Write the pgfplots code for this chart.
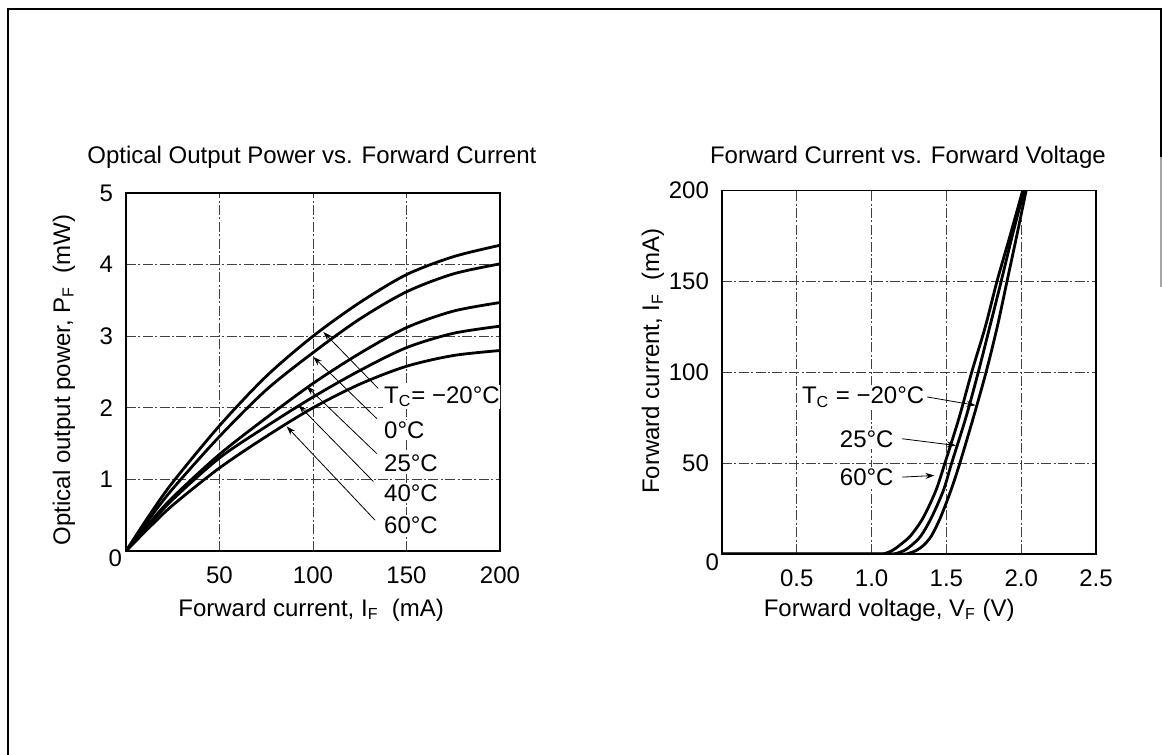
\documentclass[border=0pt]{standalone}
\usepackage{fontspec}
\setmainfont{Liberation Sans}
\usepackage{pgfplots}
\pgfplotsset{compat=1.18}
\usetikzlibrary{arrows.meta}

\pgfplotstableread{
x m20 z25 t25 f40 s60
0    0    0    0    0    0
12.5 0.50 0.45 0.39 0.37 0.33
25   0.96 0.87 0.75 0.72 0.64
50   1.75 1.60 1.35 1.30 1.16
75   2.44 2.25 1.86 1.74 1.60
100  3.00 2.77 2.34 2.15 2.00
125  3.47 3.24 2.76 2.52 2.33
150  3.86 3.62 3.12 2.84 2.58
175  4.11 3.87 3.35 3.04 2.73
200  4.27 4.01 3.47 3.14 2.80
}\powertable

\pgfplotstableread{
v i
0     0
1.15  0
1.23  0
1.30  2
1.35  5
1.40  10
1.46  20
1.53  35
1.59  50
1.68  75
1.765 100
1.84  125
1.905 150
1.97  175
2.033 200
}\ivmtwenty

\pgfplotstableread{
v i
0     0
1.08  0
1.15  0
1.22  2
1.27  5
1.33  10
1.40  20
1.48  35
1.535 50
1.63  75
1.713 100
1.79  125
1.866 150
1.94  175
2.019 200
}\ivtwentyfive

\pgfplotstableread{
v i
0     0
1.00  0
1.075 0
1.14  2
1.19  5
1.26  10
1.345 20
1.43  35
1.49  50
1.585 75
1.669 100
1.76  125
1.838 150
1.925 175
2.01  200
}\ivsixty

\tikzset{
  ann/.style={-{Stealth[length=4.5pt,width=3pt]}, line width=0.4pt},
  lab/.style={fill=white, inner sep=0.8pt, font=\fontsize{12}{14}\selectfont},
}

\begin{document}
\begin{tikzpicture}[font=\fontsize{12}{14}\selectfont]
\useasboundingbox (0,0) rectangle (581pt,377.5pt);
\draw[line width=1pt] (4pt,0) -- (4pt,373pt) -- (580.5pt,373pt) -- (580.5pt,299pt);
\draw[line width=0.6pt, black!35] (580.5pt,299pt) -- (580.5pt,234pt);

\pgfplotsset{
  every axis/.append style={
    scale only axis,
    axis line style={line width=0.9pt},
    grid=major,
    major grid style={line width=0.45pt, black!75, dash pattern=on 5pt off 1.2pt on 1pt off 1.2pt},
    major tick length=0pt,
    tick label style={font=\fontsize{12}{14}\selectfont},
    xticklabel style={yshift=-4.5pt},
    yticklabel style={xshift=-3pt},
    label style={font=\fontsize{12}{14}\selectfont},
    title style={font=\fontsize{12}{14}\selectfont, anchor=center},
    /pgf/number format/assume math mode=true,
  },
  curve/.style={line width=1.4pt, black, smooth, tension=0.5, no markers},
}

% Left chart
\begin{axis}[at={(63pt,102pt)}, anchor=south west, width=187pt, height=179pt,
  xmin=0, xmax=200, ymin=0, ymax=5,
  xtick={50,100,150,200}, xticklabels={50,100,150,200},
  ytick={0,1,2,3,4,5}, yticklabels={\raisebox{-3.5pt}[\height][\depth]{0\kern-4.5pt},1,2,3,4,5},
  title={Optical Output Power vs. Forward Current},
  title style={at={(axis description cs:0.497,1.067)}},
  xlabel={Forward current, I\textsubscript{F}\ \ (mA)},
  xlabel style={at={(axis description cs:0.495,-0.165)}, anchor=center},
  ylabel={Optical output power, P\textsubscript{F}\ \ (mW)},
  ylabel style={at={(axis description cs:-0.166,0.478)}, anchor=center},
]
\addplot[curve] table[x=x, y=m20] {\powertable};
\addplot[curve] table[x=x, y=z25] {\powertable};
\addplot[curve] table[x=x, y=t25] {\powertable};
\addplot[curve] table[x=x, y=f40] {\powertable};
\addplot[curve] table[x=x, y=s60] {\powertable};
\draw[ann] (axis cs:134.9,2.27) -- (axis cs:105.5,3.06);
\draw[ann] (axis cs:134.1,1.85) -- (axis cs:100.2,2.71);
\draw[ann] (axis cs:134.1,1.36) -- (axis cs:96.6,2.30);
\draw[ann] (axis cs:132.3,0.97) -- (axis cs:92.2,2.04);
\draw[ann] (axis cs:133.2,0.43) -- (axis cs:85.9,1.74);
\node[lab, anchor=west] at (axis cs:137,2.155) {T\textsubscript{C}= −20°C};
\node[lab, anchor=west] at (axis cs:137,1.69) {0°C};
\node[lab, anchor=west] at (axis cs:137,1.225) {25°C};
\node[lab, anchor=west] at (axis cs:137,0.805) {40°C};
\node[lab, anchor=west] at (axis cs:137,0.363) {60°C};
\end{axis}

% Right chart
\begin{axis}[at={(361pt,100.5pt)}, anchor=south west, width=187pt, height=181.75pt,
  xmin=0, xmax=2.5, ymin=0, ymax=200,
  xtick={0.5,1,1.5,2,2.5}, xticklabels={0.5,1.0,1.5,2.0,2.5},
  ytick={0,50,100,150,200}, yticklabels={\raisebox{-4pt}[\height][\depth]{0\kern-5pt},50,100,150,200},
  title={Forward Current vs. Forward Voltage},
  title style={at={(axis description cs:0.497,1.0595)}},
  xlabel={Forward voltage, V\textsubscript{F} (V)},
  xlabel style={at={(axis description cs:0.447,-0.154)}, anchor=center},
  ylabel={Forward current, I\textsubscript{F}\ \ (mA)},
  ylabel style={at={(axis description cs:-0.1845,0.531)}, anchor=center},
]
\addplot[curve] table[x=v, y=i] {\ivmtwenty};
\addplot[curve] table[x=v, y=i] {\ivtwentyfive};
\addplot[curve] table[x=v, y=i] {\ivsixty};
\draw[ann] (axis cs:1.372,86.4) -- (axis cs:1.695,81.8);
\draw[ann] (axis cs:1.205,63.4) -- (axis cs:1.563,59.7);
\draw[ann] (axis cs:1.205,42.3) -- (axis cs:1.42,43.2);
\node[lab, anchor=east] at (axis cs:1.365,86.4) {T\textsubscript{C} = −20°C};
\node[lab, anchor=east] at (axis cs:1.16,63.4) {25°C};
\node[lab, anchor=east] at (axis cs:1.16,42.3) {60°C};
\end{axis}
\end{tikzpicture}
\end{document}
